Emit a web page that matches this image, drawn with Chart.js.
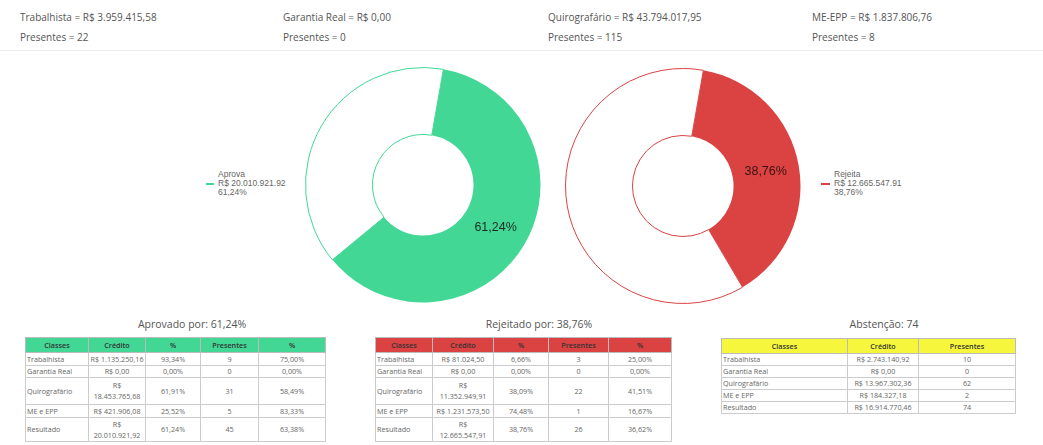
<!DOCTYPE html>
<html>
<head>
<meta charset="utf-8">
<script src="https://cdn.jsdelivr.net/npm/chart.js@4.4.1/dist/chart.umd.min.js"></script>
<style>
  html, body { margin:0; padding:0; background:#fff; width:1043px; height:445px; overflow:hidden; position:relative; }
  .hdr { position:absolute; font-family:"Open Sans", sans-serif; font-size:10px; color:#555; line-height:20px; }
  .sep { position:absolute; left:0; top:50px; width:1043px; height:1px; background:#eee; }
  .cv { position:absolute; }
  .leg { position:absolute; font-family:"Liberation Sans", Arial, sans-serif; font-size:8.5px; color:#666; line-height:9px; }
  .mk { position:absolute; height:2px; }
  .ttl { position:absolute; font-family:"Open Sans", sans-serif; font-size:10.5px; color:#555; transform:translateX(-50%); white-space:nowrap; }
  table { position:absolute; border-collapse:collapse; font-family:"Open Sans", sans-serif; font-size:7.2px; color:#666; table-layout:fixed; }
  td, th { border:1px solid #ccc; padding:0 1px; text-align:center; line-height:11px; white-space:nowrap; overflow:hidden; }
  th { font-weight:600; color:#333; height:14px; border-color:#bbb; }
  td.l { text-align:left; }
</style>
</head>
<body>
<div id="root"></div>
<script>
// ---- data ----
const headerClasses = ["Trabalhista", "Garantia Real", "Quirografário", "ME-EPP"];
const headerCredito = ["R$ 3.959.415,58", "R$ 0,00", "R$ 43.794.017,95", "R$ 1.837.806,76"];
const headerPresentes = [22, 0, 115, 8];

const voteLabels = ["Aprova", "Rejeita"];
const voteCredito = ["R$ 20.010.921.92", "R$ 12.665.547.91"];
const votePercent = [61.24, 38.76];
const votePercentText = ["61,24%", "38,76%"];

const tableClasses = ["Trabalhista", "Garantia Real", "Quirografário", "ME e EPP", "Resultado"];
const aprovCredito = ["R$ 1.135.250,16", "R$ 0,00", "R$<br>18.453.765,68", "R$ 421.906,08", "R$<br>20.010.921,92"];
const aprovPct = ["93,34%", "0,00%", "61,91%", "25,52%", "61,24%"];
const aprovPres = ["9", "0", "31", "5", "45"];
const aprovPresPct = ["75,00%", "0,00%", "58,49%", "83,33%", "63,38%"];

const rejCredito = ["R$ 81.024,50", "R$ 0,00", "R$<br>11.352.949,91", "R$ 1.231.573,50", "R$<br>12.665.547,91"];
const rejPct = ["6,66%", "0,00%", "38,09%", "74,48%", "38,76%"];
const rejPres = ["3", "0", "22", "1", "26"];
const rejPresPct = ["25,00%", "0,00%", "41,51%", "16,67%", "36,62%"];

const absCredito = ["R$ 2.743.140,92", "R$ 0,00", "R$ 13.967.302,36", "R$ 184.327,18", "R$ 16.914.770,46"];
const absPres = ["10", "0", "62", "2", "74"];
const absTotal = 74;

const GREEN = "#43d796";
const RED = "#db4242";
const YELLOW = "#f6f63c";

const root = document.getElementById("root");
function el(tag, cls, style, html) {
  const e = document.createElement(tag);
  if (cls) e.className = cls;
  Object.assign(e.style, style || {});
  if (html !== undefined) e.innerHTML = html;
  root.appendChild(e);
  return e;
}

// header
const hx = [20, 283, 548, 812];
headerClasses.forEach((c, i) => {
  el("div", "hdr", {left: hx[i] + "px", top: "7px"}, c + " = " + headerCredito[i] + "<br>Presentes = " + headerPresentes[i]);
});
el("div", "sep");

// doughnut charts
const labelPlugin = {
  id: "sliceLabel",
  afterDatasetsDraw(chart) {
    const ctx = chart.ctx;
    const arc = chart.getDatasetMeta(0).data[0];
    const p = arc.tooltipPosition();
    ctx.save();
    ctx.font = "12.5px 'Liberation Sans', Arial, sans-serif";
    ctx.fillStyle = chart.options.plugins.sliceLabel.color;
    ctx.textAlign = "center";
    ctx.textBaseline = "middle";
    ctx.fillText(chart.options.plugins.sliceLabel.text, p.x, p.y);
    ctx.restore();
  }
};

function makeDonut(idx, color, left, top, labelColor) {
  const c = el("canvas", "cv", {left: left + "px", top: top + "px"});
  c.width = 238; c.height = 238;
  c.style.width = "238px"; c.style.height = "238px";
  new Chart(c, {
    type: "doughnut",
    data: {
      labels: [voteLabels[idx], ""],
      datasets: [{
        data: [votePercent[idx], 100 - votePercent[idx]],
        backgroundColor: [color, "#ffffff"],
        borderColor: [color, color],
        borderWidth: [0, 1],
        hoverOffset: 0
      }]
    },
    options: {
      responsive: false,
      animation: false,
      rotation: 10,
      cutout: "43%",
      layout: {padding: 1},
      plugins: {
        legend: {display: false},
        tooltip: {enabled: false},
        sliceLabel: {text: votePercentText[idx], color: labelColor}
      }
    },
    plugins: [labelPlugin]
  });
}
makeDonut(0, GREEN, 304, 66, "#1b2b22");
makeDonut(1, RED, 564, 67, "#3a1212");

// legends
el("div", "mk", {left: "206px", top: "183px", width: "8px", background: GREEN});
el("div", "leg", {left: "218px", top: "170px"}, voteLabels[0] + "<br>" + voteCredito[0] + "<br>" + votePercentText[0]);
el("div", "mk", {left: "821px", top: "183px", width: "9px", background: RED});
el("div", "leg", {left: "834px", top: "170px"}, voteLabels[1] + "<br>" + voteCredito[1] + "<br>" + votePercentText[1]);

// titles
el("div", "ttl", {left: "192px", top: "317px"}, "Aprovado por: " + votePercentText[0]);
el("div", "ttl", {left: "539px", top: "317px"}, "Rejeitado por: " + votePercentText[1]);
el("div", "ttl", {left: "884px", top: "317px"}, "Abstenção: " + absTotal);

// tables
const rowH5 = [13, 12, 27, 13, 24];
function makeTable(left, top, widths, headers, headColor, cols, rowH) {
  const t = el("table", "", {left: left + "px", top: top + "px", width: widths.reduce((a, b) => a + b, 0) + "px"});
  let h = "<colgroup>" + widths.map(w => `<col style="width:${w}px">`).join("") + "</colgroup>";
  h += "<tr>" + headers.map(x => `<th style="background:${headColor}">${x}</th>`).join("") + "</tr>";
  tableClasses.forEach((c, r) => {
    h += `<tr style="height:${rowH[r]}px"><td class="l">${c}</td>` + cols.map(col => `<td>${col[r]}</td>`).join("") + "</tr>";
  });
  t.innerHTML = h;
}
makeTable(25, 337, [63, 57, 55, 58, 67], ["Classes", "Crédito", "%", "Presentes", "%"], GREEN,
  [aprovCredito, aprovPct, aprovPres, aprovPresPct], rowH5);
makeTable(375, 337, [57, 61, 55, 60, 63], ["Classes", "Crédito", "%", "Presentes", "%"], RED,
  [rejCredito, rejPct, rejPres, rejPresPct], rowH5);
makeTable(721, 338, [126, 71, 97], ["Classes", "Crédito", "Presentes"], YELLOW,
  [absCredito, absPres], [11, 11, 11, 11, 11]);
</script>
</body>
</html>
